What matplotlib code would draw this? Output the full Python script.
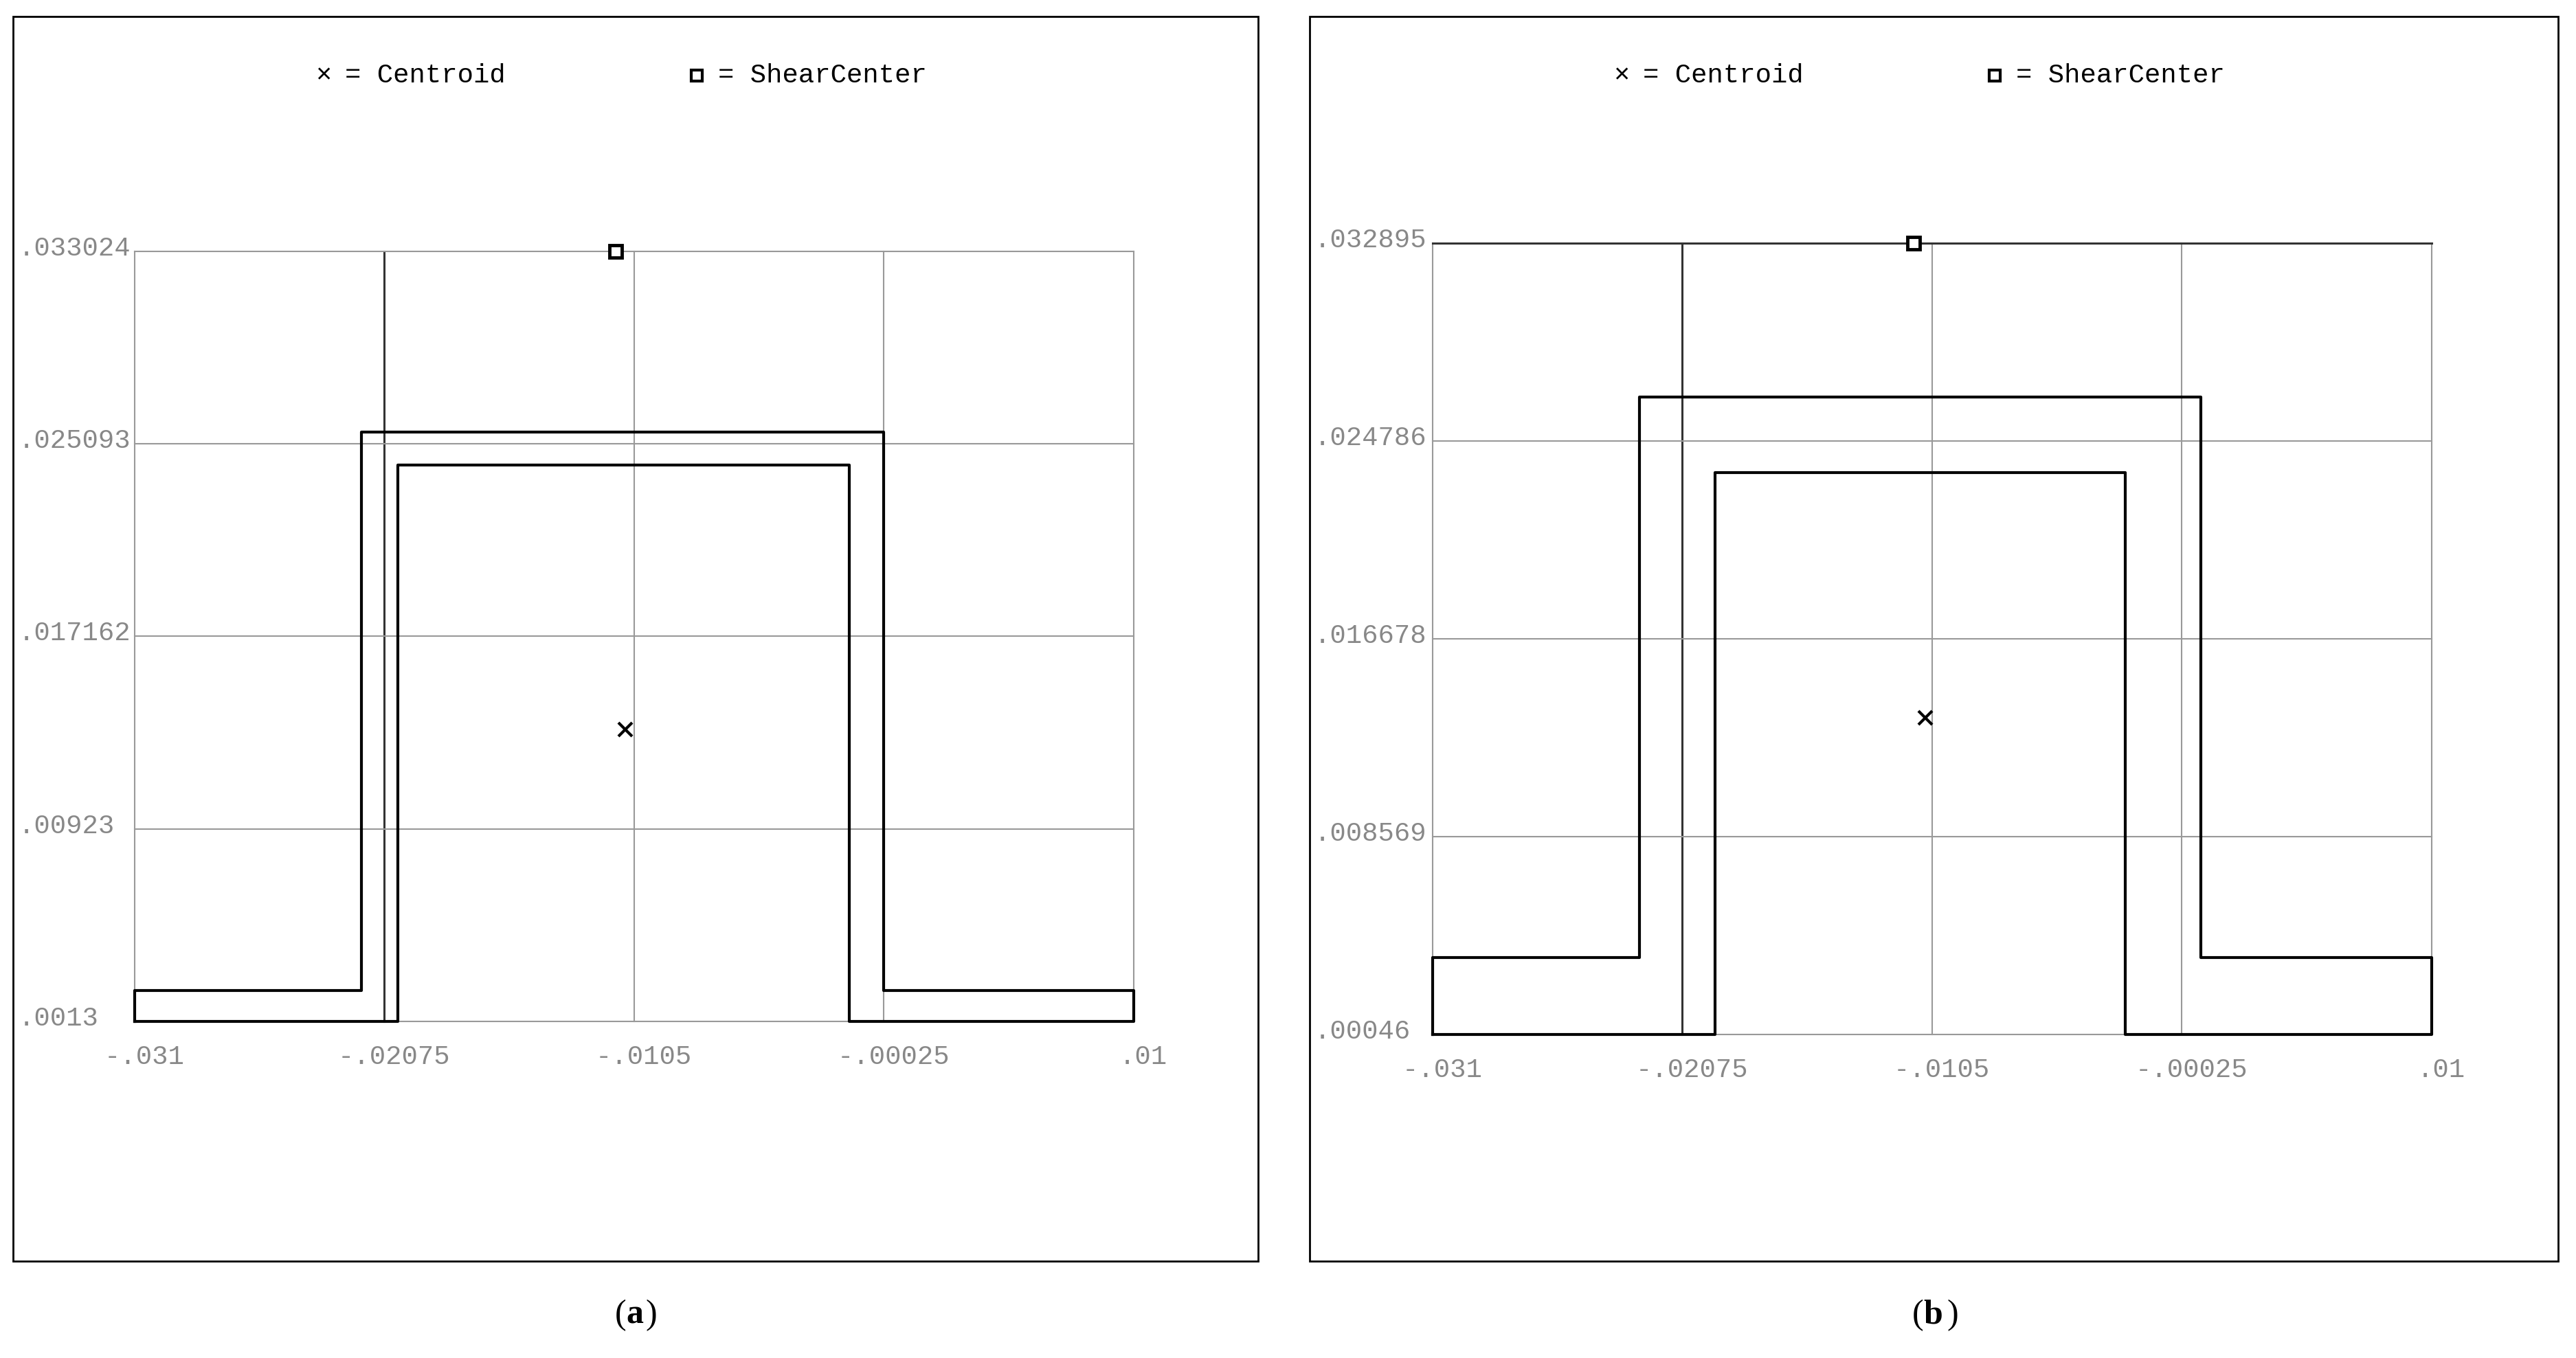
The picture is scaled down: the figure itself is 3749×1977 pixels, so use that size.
import matplotlib
matplotlib.use("Agg")
import matplotlib.pyplot as plt
from matplotlib.patches import Rectangle
from matplotlib.lines import Line2D

W, H = 1568.0, 827.0
x_ticks = [-.031, -.02075, -.0105, -.00025, .01]
x_labels = ["-.031", "-.02075", "-.0105", "-.00025", ".01"]

# panel a
ya_ticks = [.0013, .00923, .017162, .025093, .033024]
ya_labels = [".0013", ".00923", ".017162", ".025093", ".033024"]
a_outline_x = [-.031, -.031, -.02169, -.02169, -.00026, -.00026, .01, .01, -.00167, -.00167, -.02021, -.02021, -.031]
a_outline_y = [.0013, .00258, .00258, .02558, .02558, .00258, .00258, .0013, .0013, .02423, .02423, .0013, .0013]
a_centroid = (-.01085, .01333)
a_shear = (-.01125, .033024)

# panel b
yb_ticks = [.00046, .008569, .016678, .024786, .032895]
yb_labels = [".00046", ".008569", ".016678", ".024786", ".032895"]
b_outline_x = [-.031, -.031, -.02251, -.02251, .00054, .00054, .01, .01, -.00256, -.00256, -.01941, -.01941, -.031]
b_outline_y = [.00046, .00362, .00362, .02657, .02657, .00362, .00362, .00046, .00046, .02348, .02348, .00046, .00046]
b_centroid = (-.01078, .01345)
b_shear = (-.01125, .032895)

fig = plt.figure(figsize=(37.49, 19.77), dpi=100)
mono = "Liberation Mono"
S = 3749 / W

def fx(px): return px / W
def fy(py): return 1 - py / H

def panel(box, plot, yt, yl, ox, oy, cen, sh, label, top_dark):
    bx0, by0, bx1, by1 = box
    fig.patches.append(Rectangle((fx(bx0), fy(by1)), fx(bx1) - fx(bx0), fy(by0) - fy(by1),
                                 transform=fig.transFigure, fill=False, ec="black", lw=2))
    px0, py0, px1, py1 = plot
    ax = fig.add_axes([fx(px0), fy(py1), fx(px1) - fx(px0), fy(py0) - fy(py1)])
    ax.set_xlim(x_ticks[0], x_ticks[-1])
    ax.set_ylim(yt[0], yt[-1])
    for s in ax.spines.values():
        s.set_visible(False)
    ax.set_xticks([]); ax.set_yticks([])
    for xv in x_ticks:
        ax.axvline(xv, color="#333333" if xv == -.02075 else "#999999", lw=2.2 if xv == -.02075 else 1.5, clip_on=False)
    for yv in yt:
        dark = top_dark and yv == yt[-1]
        ax.axhline(yv, color="#333333" if dark else "#999999", lw=2.2 if dark else 1.5, clip_on=False)
    ax.plot(ox, oy, color="black", lw=3, clip_on=False)
    ax.plot([cen[0]], [cen[1]], marker="x", color="black", ms=14, mew=3, clip_on=False)
    ax.plot([sh[0]], [sh[1]], marker="s", mfc="white", mec="black", ms=13, mew=3.5, clip_on=False)
    for yv, l in zip(yt, yl):
        ax.annotate(l, (x_ticks[0], yv), xytext=((bx0 + 3 - px0) * S, 4),
                    textcoords="offset pixels", ha="left", va="center", fontsize=28, color="#888888", family=mono)
    for xv, l in zip(x_ticks, x_labels):
        ax.annotate(l, (xv, yt[0]), xytext=(14, -52), textcoords="offset pixels",
                    ha="center", va="center", fontsize=28, color="#888888", family=mono)
    # legend
    cx = (bx0 + bx1) / 2
    fig.text(fx(cx - 190), fy(46), "×", fontsize=28, ha="center", va="center", family=mono)
    fig.text(fx(cx - 177), fy(46), "= Centroid", fontsize=28, ha="left", va="center", family=mono)
    fig.lines.append(Line2D([fx(cx + 37)], [fy(46)], transform=fig.transFigure, marker="s",
                            mfc="white", mec="black", ms=11, mew=3))
    fig.text(fx(cx + 50), fy(46), "= ShearCenter", fontsize=28, ha="left", va="center", family=mono)
    fig.text(fx(cx - 6), fy(801), "(", fontsize=36, ha="right", va="center", family="Liberation Serif")
    fig.text(fx(cx - 6), fy(801), label, fontsize=36, ha="left", va="center", family="Liberation Serif", weight="bold")
    fig.text(fx(cx + 6 if label == "a" else cx + 8), fy(801), ")", fontsize=36, ha="left", va="center", family="Liberation Serif")

panel((8, 10, 766, 768), (82, 153, 690, 622), ya_ticks, ya_labels, a_outline_x, a_outline_y, a_centroid, a_shear, "a", False)
panel((797, 10, 1557, 768), (872, 148, 1480, 630), yb_ticks, yb_labels, b_outline_x, b_outline_y, b_centroid, b_shear, "b", True)

fig.savefig("out.png", dpi=100, facecolor="white")
